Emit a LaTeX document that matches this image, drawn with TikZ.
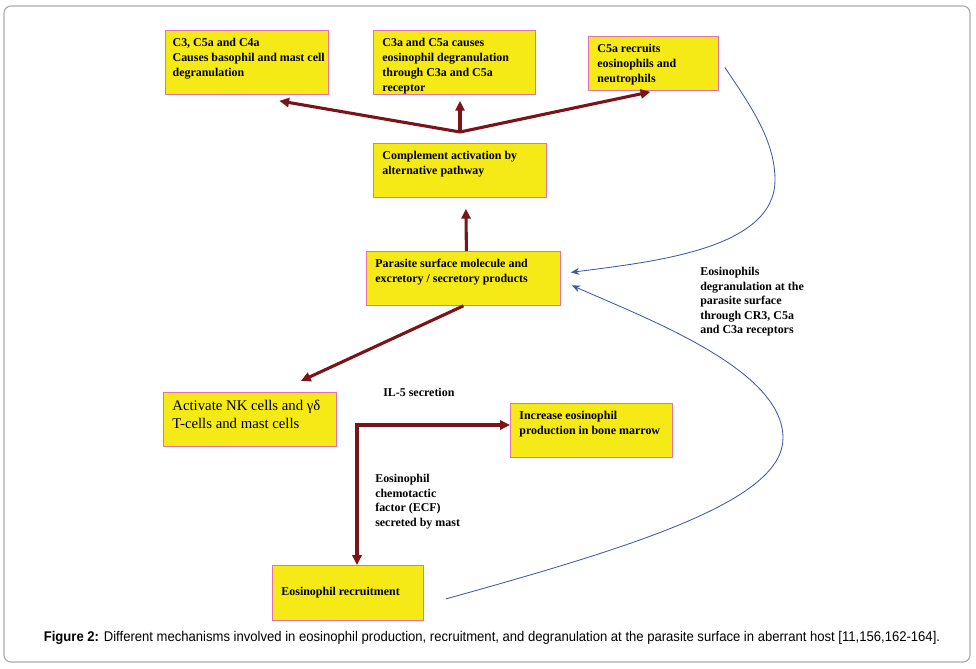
\documentclass[tikz,border=0pt]{standalone}
\usepackage{fontspec}
\setmainfont{Liberation Serif}
\newfontfamily\capfont[FakeStretch=0.93]{Liberation Sans}
\usetikzlibrary{arrows.meta,calc}

\definecolor{boxyellow}{RGB}{245,234,22}
\definecolor{boxpink}{RGB}{226,112,178}
\definecolor{arrowred}{RGB}{122,20,24}
\definecolor{curveblue}{RGB}{62,88,172}
\definecolor{framegray}{RGB}{170,170,170}

\newlength{\pxu}\setlength{\pxu}{0.025cm}
\newcommand{\boxtxt}[3]{\parbox[t][\dimexpr#2\pxu-16\pxu\relax][t]{\dimexpr#1\pxu-18\pxu\relax}{\raggedright#3}}

\tikzset{
  ybox/.style={draw=boxpink, line width=0.6pt, fill=boxyellow, anchor=north west,
    inner xsep=0.225cm, inner ysep=0.2cm, font=\fontsize{8.5}{10.6}\selectfont\bfseries},
  redarrow/.style={draw=arrowred, line width=2.2pt, -{Triangle[length=7pt,width=6.5pt]}},
  bluecurve/.style={draw=curveblue, line width=0.6pt, -{Stealth[length=6pt,width=5pt]}},
  lbl/.style={font=\fontsize{8.5}{10.3}\selectfont\bfseries, align=left, anchor=north west, inner sep=0pt}
}

\begin{document}
\begin{tikzpicture}[x=0.025cm,y=-0.025cm]
  \useasboundingbox (0,0) rectangle (976,669);
  \draw[framegray, line width=0.8pt, rounded corners=5pt] (4,6) rectangle (970,662);

  % boxes
  \draw (165,30) node[ybox, inner xsep=0.18cm] (c3box) {\boxtxt{167}{64}{C3, C5a and C4a\\\mbox{Causes basophil and mast cell}\\degranulation}};
  \draw (373,30) node[ybox] (c3abox) {\boxtxt{162}{64}{C3a and C5a causes\\eosinophil degranulation\\through C3a and C5a\\receptor}};
  \draw (588,36) node[ybox] (c5box) {\boxtxt{130}{54}{C5a recruits\\eosinophils and\\neutrophils}};
  \draw (373,143) node[ybox] (compbox) {\boxtxt{173}{54}{Complement activation by\\alternative pathway}};
  \draw (366,251) node[ybox] (psbox) {\boxtxt{194}{54}{Parasite surface molecule and\\excretory / secretory products}};
  \draw (163,392) node[ybox, font=\fontsize{10.5}{12.5}\selectfont] (nkbox) {\boxtxt{173}{54}{Activate NK cells and γδ\\T-cells and mast cells}};
  \draw (510,403) node[ybox] (incbox) {\boxtxt{162}{54}{Increase eosinophil\\production in bone marrow}};
  \draw (272,565) node[ybox] (recbox) {\parbox[c][\dimexpr55\pxu-16\pxu\relax][c]{\dimexpr151\pxu-18\pxu\relax}{Eosinophil recruitment}};

  % labels
  \draw (383,388) node[lbl] (il5) {IL-5 secretion};
  \draw (375,474) node[lbl] (ecf) {Eosinophil\\chemotactic\\factor (ECF)\\secreted by mast};
  \draw (700,267) node[lbl] (degr) {Eosinophils\\degranulation at the\\parasite surface\\through CR3, C5a\\and C3a receptors};

  % red arrows
  \coordinate (split) at (460,132);
  \draw[redarrow] (split) -- ($(c3box.south east)+(-50,6)$);
  \draw[redarrow] (split) -- ($(split |- c3abox.south)+(0,6)$);
  \draw[redarrow] (split) -- ($(c5box.south)+(-3,1)$);
  \draw[redarrow] ($(psbox.north)+(3,0)$) -- ($(compbox.south)+(6,11)$);
  \draw[redarrow] (psbox.south) -- ($(nkbox.north east)+(-36,-11)$);
  \coordinate (elbow) at (357,425);
  \draw[redarrow, {Triangle[length=7pt,width=6.5pt]}-{Triangle[length=7pt,width=6.5pt]}]
    (elbow -| incbox.west) -- (elbow) -- (elbow |- recbox.north);

  % blue curves
  \draw[bluecurve] ($(c5box.east)+(6,4)$) .. controls (750,105) and (775,140) .. (775,180)
    .. controls (775,250) and (650,262) .. ($(psbox.east)+(10,-6)$);
  \draw[bluecurve] ($(recbox.east)+(22,6)$) .. controls (640,545) and (783,500) .. (783,438)
    .. controls (783,370) and (650,320) .. ($(psbox.east)+(11,7)$);

  % caption
  \draw (492,638) node (caption) {\capfont\fontsize{10}{12}\selectfont\textbf{Figure 2:} Different mechanisms involved in eosinophil production, recruitment, and degranulation at the parasite surface in aberrant host [11,156,162-164].};
\end{tikzpicture}
\end{document}
